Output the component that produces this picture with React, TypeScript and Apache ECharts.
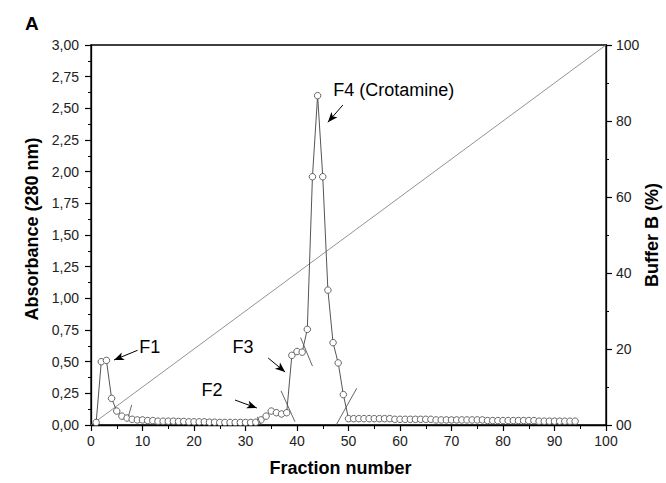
import React, { useEffect, useRef } from "react";
import * as echarts from "echarts";

const fractions = [
  1, 2, 3, 4, 5, 6, 7, 8, 9, 10, 11, 12, 13, 14, 15, 16, 17, 18, 19, 20,
  21, 22, 23, 24, 25, 26, 27, 28, 29, 30, 31, 32, 33, 34, 35, 36, 37, 38, 39, 40,
  41, 42, 43, 44, 45, 46, 47, 48, 49, 50, 51, 52, 53, 54, 55, 56, 57, 58, 59, 60,
  61, 62, 63, 64, 65, 66, 67, 68, 69, 70, 71, 72, 73, 74, 75, 76, 77, 78, 79, 80,
  81, 82, 83, 84, 85, 86, 87, 88, 89, 90, 91, 92, 93, 94,
];

const absorbance = [
  0.02, 0.5, 0.51, 0.21, 0.11, 0.07, 0.055, 0.045, 0.04, 0.04,
  0.035, 0.035, 0.03, 0.03, 0.03, 0.03, 0.028, 0.028, 0.025, 0.025,
  0.025, 0.025, 0.022, 0.022, 0.02, 0.02, 0.02, 0.02, 0.02, 0.02,
  0.02, 0.022, 0.04, 0.07, 0.11, 0.097, 0.087, 0.097, 0.55, 0.58,
  0.575, 0.755, 1.96, 2.6, 1.96, 1.065, 0.65, 0.49, 0.24, 0.05,
  0.05, 0.05, 0.05, 0.05, 0.05, 0.05, 0.05, 0.05, 0.045, 0.045,
  0.045, 0.045, 0.045, 0.045, 0.045, 0.045, 0.04, 0.04, 0.04, 0.04,
  0.04, 0.04, 0.04, 0.04, 0.04, 0.04, 0.035, 0.035, 0.035, 0.035,
  0.035, 0.035, 0.035, 0.035, 0.035, 0.035, 0.03, 0.03, 0.03, 0.03,
  0.03, 0.03, 0.03, 0.03,
];

// Buffer B gradient (fraction, %)
const gradientX = [0, 100];
const gradientY = [0, 100];

// fraction boundary markers: [x1, y1, x2, y2] in (fraction, absorbance)
const boundaryMarks = [
  [7.25, 0.066, 7.9, 0.158],
  [32.3, 0.065, 33.0, 0.0],
  [36.9, 0.27, 39.6, 0.026],
  [40.7, 0.69, 43.0, 0.465],
  [47.6, 0.0, 51.6, 0.29],
];

// arrows: [tailX, tailY, headX, headY]
const arrows = [
  [9.05, 0.59, 4.47, 0.513],
  [27.96, 0.197, 32.2, 0.134],
  [34.4, 0.529, 37.7, 0.418],
  [48.9, 2.526, 46.0, 2.39],
];

const peakLabels = ["F1", "F2", "F3", "F4 (Crotamine)"];
const peakLabelX = [11.4, 23.5, 29.5, 58.8];
const peakLabelY = [0.615, 0.276, 0.615, 2.644];

const xTicks = { min: 0, max: 100, interval: 10 };
const yLeftTicks = { min: 0, max: 3, interval: 0.25 };
const yRightTicks = { min: 0, max: 100, interval: 20 };
const rightTickText = ["00", "20", "40", "60", "80", "100"];

const FONT = "'Liberation Sans', Arial, sans-serif";

export default function App() {
  const ref = useRef<HTMLDivElement>(null);

  useEffect(() => {
    if (!ref.current) return;
    const chart = echarts.init(ref.current, null, { renderer: "svg" });

    const axisCommon = {
      axisLine: { show: true, onZero: false, lineStyle: { color: "#000", width: 1.3 } },
      axisTick: { show: true, inside: false, length: 6, lineStyle: { color: "#000", width: 1.2 } },
      minorTick: { show: true, splitNumber: 2, length: 3, lineStyle: { color: "#000", width: 1 } },
      splitLine: { show: false },
      minorSplitLine: { show: false },
    };

    const option: any = {
      animation: false,
      backgroundColor: "#fff",
      textStyle: { fontFamily: FONT },
      title: {
        text: "A",
        left: 20,
        top: 9,
        textStyle: { fontSize: 19, fontWeight: "bold", color: "#000", fontFamily: FONT },
      },
      grid: {
        left: 91,
        right: 60,
        top: 45,
        bottom: 58,
        show: true,
        borderColor: "#000",
        borderWidth: 1.3,
        backgroundColor: "transparent",
        containLabel: false,
        outerBoundsMode: "none",
      },
      xAxis: {
        type: "value",
        min: xTicks.min,
        max: xTicks.max,
        interval: xTicks.interval,
        name: "Fraction number",
        nameLocation: "middle",
        nameGap: 34,
        nameMoveOverlap: false,
        nameTextStyle: {
          fontSize: 18,
          fontWeight: "bold",
          color: "#000",
          fontFamily: FONT,
          padding: [0, 16, 0, 0],
        },
        axisLabel: { fontSize: 14, color: "#222", margin: 9, fontFamily: FONT },
        ...axisCommon,
        minorTick: { show: true, splitNumber: 2, length: 4, lineStyle: { color: "#000", width: 1 } },
      },
      yAxis: [
        {
          type: "value",
          position: "left",
          min: yLeftTicks.min,
          max: yLeftTicks.max,
          interval: yLeftTicks.interval,
          name: "Absorbance (280 nm)",
          nameLocation: "middle",
          nameGap: 50,
          nameMoveOverlap: false,
          nameTextStyle: {
            fontSize: 18,
            fontWeight: "bold",
            color: "#000",
            fontFamily: FONT,
            padding: [0, 0, 0, 12],
          },
          axisLabel: {
            fontSize: 14,
            color: "#222",
            margin: 12,
            fontFamily: FONT,
            formatter: (v: number) => Number(v).toFixed(2).replace(".", ","),
          },
          ...axisCommon,
        },
        {
          type: "value",
          position: "right",
          min: yRightTicks.min,
          max: yRightTicks.max,
          interval: yRightTicks.interval,
          name: "Buffer B (%)",
          nameLocation: "middle",
          nameGap: 37,
          nameMoveOverlap: false,
          nameTextStyle: {
            fontSize: 18,
            fontWeight: "bold",
            color: "#000",
            fontFamily: FONT,
          },
          axisLabel: {
            fontSize: 14,
            color: "#222",
            margin: 10,
            fontFamily: FONT,
            formatter: (v: number) => rightTickText[Math.round(Number(v) / yRightTicks.interval)] ?? String(v),
          },
          ...axisCommon,
        },
      ],
      series: [
        {
          type: "line",
          name: "Buffer B",
          yAxisIndex: 1,
          data: gradientX.map((x, i) => [x, gradientY[i]]),
          symbol: "none",
          silent: true,
          lineStyle: { color: "#777", width: 0.8 },
          z: 1,
        },
        {
          type: "line",
          name: "Absorbance",
          yAxisIndex: 0,
          data: fractions.map((f, i) => [f, absorbance[i]]),
          symbol: "circle",
          symbolSize: 6.5,
          showSymbol: true,
          silent: true,
          lineStyle: { color: "#555", width: 1 },
          itemStyle: { color: "#fff", borderColor: "#555", borderWidth: 0.9 },
          z: 3,
          markLine: {
            silent: true,
            animation: false,
            label: { show: false },
            emphasis: { disabled: true },
            data: [
              ...boundaryMarks.map((m) => [
                { coord: [m[0], m[1]], symbol: "none", lineStyle: { color: "#555", width: 0.9, type: "solid" } },
                { coord: [m[2], m[3]], symbol: "none" },
              ]),
              ...arrows.map((a) => [
                { coord: [a[0], a[1]], symbol: "none", lineStyle: { color: "#000", width: 1, type: "solid" } },
                { coord: [a[2], a[3]], symbol: "arrow", symbolSize: [6, 10] },
              ]),
            ],
          },
          markPoint: {
            silent: true,
            animation: false,
            symbol: "circle",
            symbolSize: 1,
            itemStyle: { color: "rgba(0,0,0,0)" },
            label: {
              show: true,
              position: "inside",
              color: "#000",
              fontSize: 18,
              fontFamily: FONT,
              formatter: (p: any) => p.name,
            },
            data: peakLabels.map((t, i) => ({ name: t, coord: [peakLabelX[i], peakLabelY[i]] })),
          },
        },
      ],
    };

    chart.setOption(option);
    return () => chart.dispose();
  }, []);

  return (
    <div
      ref={ref}
      style={{ position: "fixed", left: 0, top: 0, width: 666, height: 483, background: "#fff" }}
    />
  );
}
